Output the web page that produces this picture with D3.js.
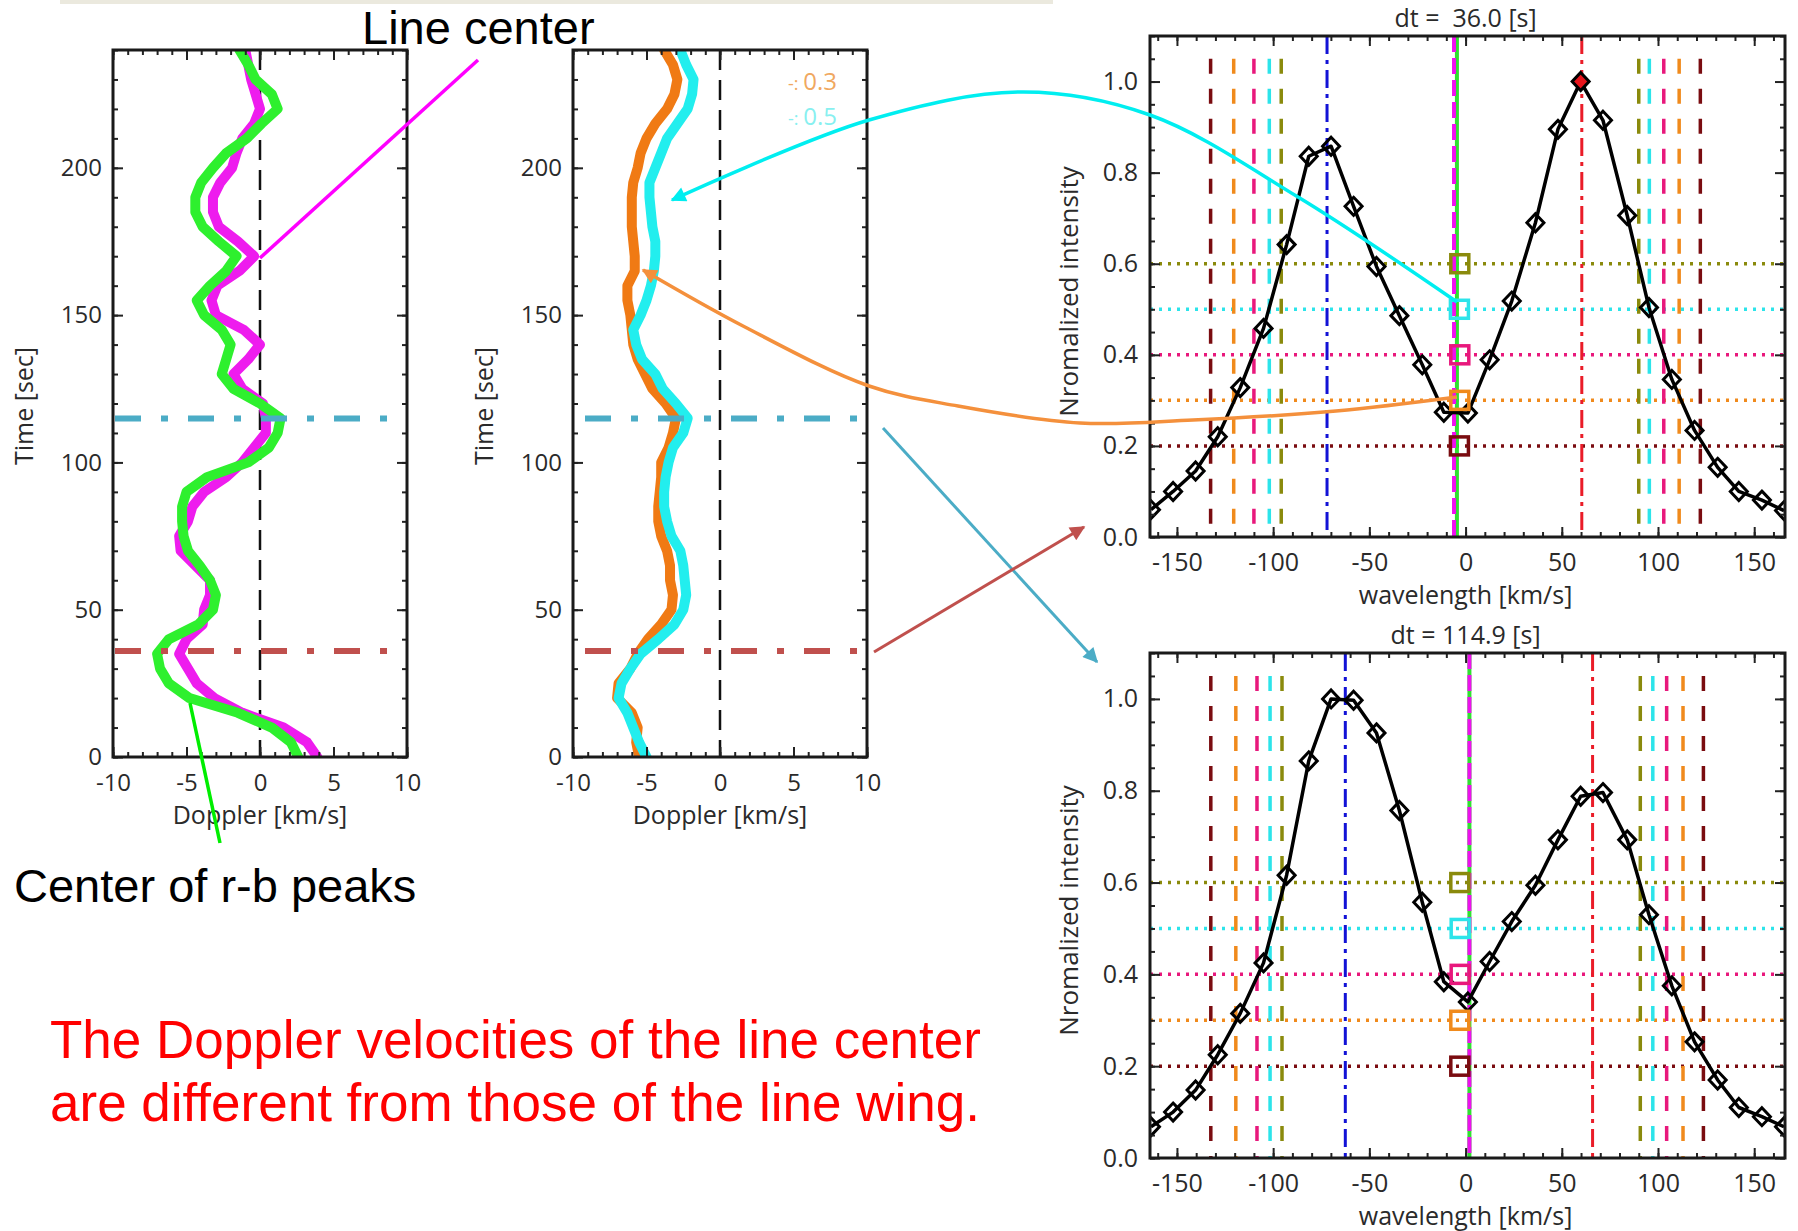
<!DOCTYPE html>
<html>
<head>
<meta charset="utf-8">
<script src="https://cdn.jsdelivr.net/npm/d3@7"></script>
<style>
  body { margin: 0; background: #fff; }
  svg { display: block; }
  .ax text { font-family: "Open Sans", "Noto Sans", sans-serif; fill: #2a2a2a; }
  .ax line { stroke: #222; stroke-width: 2; }
  .lbl { font-family: "Open Sans", "Noto Sans", sans-serif; fill: #2a2a2a; white-space: pre; }
  .note { font-family: "Liberation Sans", Arial, sans-serif; }
</style>
</head>
<body>
<svg id="fig" width="1798" height="1231"></svg>
<script>
// ---------------- Doppler time series (left panels) ----------------
const timeSec = [0,5,10,15,20,25,30,35,40,45,50,55,60,65,70,75,80,85,90,95,100,105,110,115,120,
                 125,130,135,140,145,150,155,160,165,170,175,180,185,190,195,200,205,210,215,220,225,230,235,240];
// line-center Doppler velocity [km/s]
const lineCenter = [3.9,3.2,1.6,-1.2,-3.1,-4.3,-4.9,-5.5,-5.0,-3.9,-3.8,-3.4,-3.4,-4.4,-5.4,-5.5,-4.9,-4.6,-3.8,-2.3,-1.2,-0.4,0.4,0.4,0.2,
                    -1.2,-1.8,-0.8,0.0,-1.1,-3.0,-3.3,-2.9,-1.4,-0.4,-1.5,-2.8,-3.2,-3.2,-2.7,-1.9,-1.6,-1.2,-0.4,0.0,-0.3,-0.6,-0.8,-1.0];
// center of red/blue peaks [km/s]
const peakCenter = [2.6,2.1,0.8,-1.5,-4.8,-6.2,-6.8,-7.0,-6.2,-4.2,-3.2,-3.0,-3.4,-4.1,-4.9,-5.2,-5.3,-5.3,-5.0,-3.6,-0.8,0.6,1.2,1.4,0.0,
                    -1.8,-2.6,-2.3,-2.0,-2.6,-3.8,-4.3,-3.4,-2.3,-1.6,-2.8,-3.9,-4.4,-4.4,-4.0,-3.2,-2.3,-0.9,0.1,1.2,0.8,-0.3,-0.8,-1.4];
// bisector velocity at intensity level 0.3 and 0.5 [km/s]
const wing03 = [-5.5,-5.7,-5.6,-6.0,-7.0,-6.9,-6.1,-5.6,-4.9,-4.0,-3.3,-3.2,-3.4,-3.4,-3.6,-4.0,-4.2,-4.2,-4.1,-4.0,-4.0,-3.5,-3.2,-3.0,-3.7,
                -4.6,-5.1,-5.6,-5.9,-6.0,-6.1,-6.3,-6.3,-5.8,-5.8,-5.9,-6.0,-6.0,-6.0,-5.9,-5.6,-5.4,-5.0,-4.4,-3.6,-3.1,-2.9,-3.2,-3.8];
const wing05 = [-5.0,-5.5,-5.9,-6.3,-6.9,-6.7,-6.1,-5.4,-4.2,-3.1,-2.5,-2.3,-2.4,-2.5,-2.7,-3.3,-3.6,-3.8,-3.8,-3.7,-3.5,-3.2,-2.5,-2.2,-3.0,
                -3.9,-4.4,-5.3,-5.7,-5.9,-5.4,-5.0,-4.7,-4.5,-4.4,-4.4,-4.6,-4.7,-4.8,-4.8,-4.4,-4.0,-3.6,-2.9,-2.2,-1.9,-1.8,-2.3,-2.7];
const wingLevels = ["0.3", "0.5"];
const markTimes = [36.0, 114.9];           // times of the two profiles shown on the right
const dopplerTicks = [-10, -5, 0, 5, 10];
const timeTicks = [0, 50, 100, 150, 200];

// ---------------- line profiles (right panels) ----------------
const wavelength = [-163.5,-152,-140.3,-128.8,-117.1,-105,-93,-81.5,-69.9,-58.2,-46.3,-34.4,-22.5,-11.3,1.2,
                    12.5,24,36.3,48,59.8,71.4,84,95.3,107.2,119,131,142,154,165.5];
const profileDt36  = [0.06,0.10,0.145,0.22,0.328,0.458,0.642,0.836,0.858,0.726,0.594,0.486,0.378,0.274,0.272,
                      0.389,0.518,0.69,0.895,1.0,0.915,0.706,0.504,0.346,0.234,0.153,0.10,0.081,0.058];
const profileDt115 = [0.068,0.10,0.148,0.225,0.315,0.425,0.616,0.865,1.0,0.997,0.926,0.757,0.557,0.384,0.34,
                      0.428,0.515,0.594,0.693,0.788,0.796,0.693,0.53,0.375,0.253,0.17,0.11,0.09,0.068];
const dtValues = ["36.0", "114.9"];
const intensityLevels = [0.2, 0.3, 0.4, 0.5, 0.6];
// blue-wing / red-wing positions where the profile crosses each level [km/s]
const blueWingDt36  = [-132.5,-120.5,-110,-102,-95.8];
const redWingDt36   = [122,111,103,95.5,90];
const blueWingDt115 = [-132.4,-119.4,-108.4,-101.6,-95.4];
const redWingDt115  = [123.6,113,104.5,97.3,90.8];
// bisector points for each level [km/s]
const bisectorDt36  = [-3.2,-3.0,-3.0,-3.2,-3.0];
const bisectorDt115 = [-3.0,-3.0,-2.8,-2.8,-3.0];
// fitted peaks and centres [km/s]
const bluePeak = [-72, -62.5];
const redPeak = [60.4, 66];
const peakMid = [-4.5, 2.0];
const coreCenter = [-6.0, 2.0];
const waveTicks = [-150, -100, -50, 0, 50, 100, 150];
const intensityTicks = [0, 0.2, 0.4, 0.6, 0.8, 1.0];

// ---------------- drawing ----------------
const svg = d3.select('#fig');
const defs = svg.append('defs');
const levelColor = ['#7a0c10', '#f08a1c', '#e8187c', '#2ce4ea', '#8a8a0c'];

svg.append('rect').attr('x', 60).attr('y', 0).attr('width', 993).attr('height', 4).attr('fill', '#ebe9de');

function frameAxes(g, x, y, xMajor, xMinor, yMajor, yMinor, fmtX, fmtY, fontSize, padX, padY) {
  const [x0, x1] = x.range(), [y0, y1] = y.range();   // y0 = bottom, y1 = top
  const clean = s => s.select('.domain').remove();
  g.append('g').attr('class', 'ax').attr('transform', `translate(0,${y0})`)
    .call(d3.axisBottom(x).tickValues(xMinor).tickSize(-5).tickFormat('')).call(clean);
  g.append('g').attr('class', 'ax').attr('transform', `translate(0,${y1})`)
    .call(d3.axisTop(x).tickValues(xMinor).tickSize(-5).tickFormat('')).call(clean);
  g.append('g').attr('class', 'ax').attr('transform', `translate(0,${y1})`)
    .call(d3.axisTop(x).tickValues(xMajor).tickSize(-10).tickFormat('')).call(clean);
  g.append('g').attr('class', 'ax').attr('transform', `translate(0,${y0})`)
    .call(d3.axisBottom(x).tickValues(xMajor).tickSizeInner(-10).tickSizeOuter(0).tickPadding(padX).tickFormat(fmtX))
    .call(clean).selectAll('text').attr('font-size', fontSize);
  g.append('g').attr('class', 'ax').attr('transform', `translate(${x0},0)`)
    .call(d3.axisLeft(y).tickValues(yMinor).tickSize(-5).tickFormat('')).call(clean);
  g.append('g').attr('class', 'ax').attr('transform', `translate(${x1},0)`)
    .call(d3.axisRight(y).tickValues(yMinor).tickSize(-5).tickFormat('')).call(clean);
  g.append('g').attr('class', 'ax').attr('transform', `translate(${x1},0)`)
    .call(d3.axisRight(y).tickValues(yMajor).tickSize(-10).tickFormat('')).call(clean);
  g.append('g').attr('class', 'ax').attr('transform', `translate(${x0},0)`)
    .call(d3.axisLeft(y).tickValues(yMajor).tickSizeInner(-10).tickSizeOuter(0).tickPadding(padY).tickFormat(fmtY))
    .call(clean).selectAll('text').attr('font-size', fontSize);
  g.append('rect').attr('x', x0).attr('y', y1).attr('width', x1 - x0).attr('height', y0 - y1)
    .attr('fill', 'none').attr('stroke', '#1a1a1a').attr('stroke-width', 3);
}

// ----- left: Doppler vs time -----
function timePanel(x0, layers, markExtent, legend) {
  const x = d3.scaleLinear([-10, 10], [x0, x0 + 294]);
  const y = d3.scaleLinear([0, 240], [757, 50]);
  const g = svg.append('g');
  const cid = 'clipT' + x0;
  defs.append('clipPath').attr('id', cid).append('rect')
    .attr('x', x0).attr('y', 50).attr('width', 294).attr('height', 707);
  const plot = g.append('g').attr('clip-path', `url(#${cid})`);
  plot.append('line').attr('x1', x(0)).attr('x2', x(0)).attr('y1', y(240)).attr('y2', y(0))
    .attr('stroke', '#111').attr('stroke-width', 2.5).attr('stroke-dasharray', '20 10');
  const line = d3.line().x(d => x(d[1])).y(d => y(d[0]));
  layers.forEach(L => {
    plot.append('path').datum(timeSec.map((t, i) => [t, L.values[i]])).attr('d', line)
      .attr('fill', 'none').attr('stroke', L.color).attr('stroke-width', 10)
      .attr('stroke-linejoin', 'round').attr('stroke-linecap', 'round');
  });
  const markColor = ['#c0504d', '#4bacc6'];
  markTimes.forEach((t, i) => {
    g.append('line').attr('x1', x0 + markExtent[0]).attr('x2', x0 + markExtent[1])
      .attr('y1', y(t)).attr('y2', y(t)).attr('stroke', markColor[i]).attr('stroke-width', 6)
      .attr('stroke-dasharray', '26 20 7 20');
  });
  frameAxes(g, x, y, dopplerTicks, d3.range(-10, 11, 1), timeTicks, d3.range(0, 241, 10),
            d => String(d), d => String(d), 24, 17, 11);
  g.append('text').attr('class', 'lbl').attr('x', x(0)).attr('y', 824).attr('text-anchor', 'middle')
    .attr('font-size', 25).text('Doppler [km/s]');
  g.append('text').attr('class', 'lbl').attr('transform', `translate(${x0 - 89},406) rotate(-90)`)
    .attr('text-anchor', 'middle').attr('dy', '0.35em').attr('font-size', 25).text('Time [sec]');
  if (legend) {
    legend.forEach((L, i) => {
      const t = g.append('text').attr('class', 'lbl').attr('x', x0 + 215).attr('y', 90 + i * 35)
        .attr('fill', L.color).style('fill', L.color).attr('font-size', 24);
      t.append('tspan').attr('font-size', 18).text('-: ');
      t.append('tspan').text(L.label);
    });
  }
  return { x, y };
}

timePanel(113, [
  { values: lineCenter, color: '#ee1cee' },
  { values: peakCenter, color: '#2ef02e' }
], [2, 279]);

timePanel(573, [
  { values: wing03, color: '#f07a14' },
  { values: wing05, color: '#22eeee' }
], [12, 286], [
  { label: wingLevels[0], color: '#f0a860' },
  { label: wingLevels[1], color: '#88f0f0' }
]);

// ----- right: line profiles -----
function profilePanel(k, top, bottom, profile, blueW, redW, bisect) {
  const x = d3.scaleLinear([-164, 166], [1150, 1785]);
  const y = d3.scaleLinear([0, 1.1], [bottom, top]);
  const g = svg.append('g');
  const cid = 'clipP' + k;
  defs.append('clipPath').attr('id', cid).append('rect')
    .attr('x', 1150).attr('y', top).attr('width', 635).attr('height', bottom - top);
  const plot = g.append('g').attr('clip-path', `url(#${cid})`);

  // level lines
  intensityLevels.forEach((lv, i) => {
    plot.append('line').attr('x1', x(-164)).attr('x2', x(166)).attr('y1', y(lv)).attr('y2', y(lv))
      .attr('stroke', levelColor[i]).attr('stroke-width', 3.5).attr('stroke-dasharray', '3 6');
  });
  intensityLevels.forEach((lv, i) => {
    [blueW[i], redW[i]].forEach(v => {
      plot.append('line').attr('x1', x(v)).attr('x2', x(v)).attr('y1', y(1.05)).attr('y2', y(0))
        .attr('stroke', levelColor[i]).attr('stroke-width', 3.5).attr('stroke-dasharray', '15 15');
    });
  });
  // fitted peaks
  plot.append('line').attr('x1', x(bluePeak[k])).attr('x2', x(bluePeak[k])).attr('y1', top).attr('y2', bottom)
    .attr('stroke', '#1212d6').attr('stroke-width', 3).attr('stroke-dasharray', '18 6 4 6');
  plot.append('line').attr('x1', x(redPeak[k])).attr('x2', x(redPeak[k])).attr('y1', top).attr('y2', bottom)
    .attr('stroke', '#ea1c28').attr('stroke-width', 3).attr('stroke-dasharray', '18 6 4 6');
  // centre lines
  plot.append('line').attr('x1', x(peakMid[k])).attr('x2', x(peakMid[k])).attr('y1', top).attr('y2', bottom)
    .attr('stroke', '#30e030').attr('stroke-width', 4);
  plot.append('line').attr('x1', x(coreCenter[k])).attr('x2', x(coreCenter[k])).attr('y1', top).attr('y2', bottom)
    .attr('stroke', '#ee10ee').attr('stroke-width', 4).attr('stroke-dasharray', '16 6');

  // profile
  const pts = wavelength.map((w, i) => [w, profile[i]]);
  plot.append('path').datum(pts)
    .attr('d', d3.line().x(d => x(d[0])).y(d => y(d[1])))
    .attr('fill', 'none').attr('stroke', '#000').attr('stroke-width', 3.5).attr('stroke-linejoin', 'round');
  const diamond = 'M0,-9L8.5,0L0,9L-8.5,0Z';
  plot.selectAll('path.dm').data(pts).join('path').attr('class', 'dm')
    .attr('d', diamond).attr('transform', d => `translate(${x(d[0])},${y(d[1])})`)
    .attr('fill', d => (k === 0 && d[1] === 1.0) ? '#e8141c' : 'none')
    .attr('stroke', '#000').attr('stroke-width', 3);

  // bisector squares
  intensityLevels.forEach((lv, i) => {
    plot.append('rect').attr('x', x(bisect[i]) - 9).attr('y', y(lv) - 9).attr('width', 18).attr('height', 18)
      .attr('fill', 'none').attr('stroke', levelColor[i]).attr('stroke-width', 3.5);
  });

  frameAxes(g, x, y, waveTicks, d3.range(-160, 170, 10), intensityTicks, d3.range(0, 1.101, 0.05),
            d => String(d), d3.format('.1f'), 25, 16, 12);
  g.append('text').attr('class', 'lbl').attr('x', x(0)).attr('y', bottom + 67).attr('text-anchor', 'middle')
    .attr('font-size', 25).text('wavelength [km/s]');
  g.append('text').attr('class', 'lbl').attr('x', x(0)).attr('y', top - 9).attr('text-anchor', 'middle')
    .attr('font-size', 25).text(k === 0 ? `dt =  ${dtValues[k]} [s]` : `dt = ${dtValues[k]} [s]`);
  g.append('text').attr('class', 'lbl')
    .attr('transform', `translate(1069,${(top + bottom) / 2 + 5}) rotate(-90)`)
    .attr('text-anchor', 'middle').attr('dy', '0.35em').attr('font-size', 26).text('Nromalized intensity');
}

profilePanel(0, 36, 537, profileDt36, blueWingDt36, redWingDt36, bisectorDt36);
profilePanel(1, 653, 1158, profileDt115, blueWingDt115, redWingDt115, bisectorDt115);

// ----- annotations -----
function arrowHead(id, color) {
  defs.append('marker').attr('id', id).attr('viewBox', '0 0 10 10').attr('refX', 9).attr('refY', 5)
    .attr('markerWidth', 20).attr('markerHeight', 15).attr('markerUnits', 'userSpaceOnUse').attr('orient', 'auto')
    .append('path').attr('d', 'M0,0L10,5L0,10Z').attr('fill', color);
}
arrowHead('ahCyan', '#00eef0');
arrowHead('ahOrange', '#f4903c');
arrowHead('ahBlue', '#4bacc6');
arrowHead('ahRed', '#c0504d');

const curve = d3.line().curve(d3.curveCatmullRom.alpha(0.5));
svg.append('path')
  .attr('d', curve([[1457, 302], [1298, 197], [1150, 115], [1023, 92], [869, 120], [672, 200]]))
  .attr('fill', 'none').attr('stroke', '#00eef0').attr('stroke-width', 3.5).attr('marker-end', 'url(#ahCyan)');
svg.append('path')
  .attr('d', curve([[1457, 397], [1336, 411], [1193, 420], [1080, 423], [958, 406], [869, 386], [743, 326], [643, 270]]))
  .attr('fill', 'none').attr('stroke', '#f4903c').attr('stroke-width', 3.5).attr('marker-end', 'url(#ahOrange)');
svg.append('line').attr('x1', 883).attr('y1', 428).attr('x2', 1097).attr('y2', 662)
  .attr('stroke', '#4bacc6').attr('stroke-width', 3).attr('marker-end', 'url(#ahBlue)');
svg.append('line').attr('x1', 874).attr('y1', 652).attr('x2', 1084).attr('y2', 527)
  .attr('stroke', '#c0504d').attr('stroke-width', 3).attr('marker-end', 'url(#ahRed)');

svg.append('line').attr('x1', 478).attr('y1', 60).attr('x2', 260).attr('y2', 258)
  .attr('stroke', '#ff00ff').attr('stroke-width', 3.5);
svg.append('line').attr('x1', 190).attr('y1', 703).attr('x2', 220).attr('y2', 843)
  .attr('stroke', '#00ee00').attr('stroke-width', 3.5);

svg.append('text').attr('class', 'note').attr('x', 362).attr('y', 44).attr('font-size', 47)
  .attr('fill', '#000').text('Line center');
svg.append('text').attr('class', 'note').attr('x', 14).attr('y', 902).attr('font-size', 47)
  .attr('fill', '#000').text('Center of r-b peaks');
svg.append('text').attr('class', 'note').attr('x', 50).attr('y', 1058).attr('font-size', 53)
  .attr('fill', '#ff0000').text('The Doppler velocities of the line center');
svg.append('text').attr('class', 'note').attr('x', 50).attr('y', 1121).attr('font-size', 53)
  .attr('fill', '#ff0000').text('are different from those of the line wing.');
</script>
</body>
</html>
